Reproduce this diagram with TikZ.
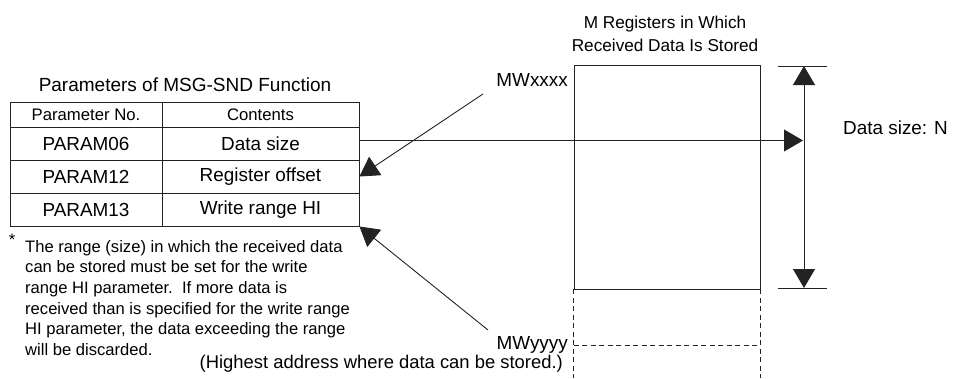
\documentclass[tikz,border=0pt]{standalone}
\usepackage{fontspec}
\setmainfont{Liberation Sans}
\usetikzlibrary{arrows.meta,calc}
\definecolor{LineGrey}{RGB}{35,35,35}

\tikzset{
  cell/.style={draw=LineGrey,line width=0.9pt,minimum height=33pt,inner sep=0pt,font=\fontsize{18.9}{22}\selectfont},
  hdrcell/.style={cell,minimum height=25pt,font=\fontsize{16.7}{20}\selectfont},
  lbl/.style={inner sep=0pt,font=\fontsize{18.9}{22}\selectfont},
  thinline/.style={draw=LineGrey,line width=0.9pt},
  dashline/.style={thinline,dash pattern=on 5pt off 3.5pt},
  bigtip/.style={-{Triangle[length=19pt,width=22pt]}},
}

\begin{document}
\begin{tikzpicture}[x=1pt,y=-1pt]
    \useasboundingbox (0,0) rectangle (954,378);
    % Parameter table
    \node[lbl,font=\fontsize{19}{22}\selectfont] (paramTitle) at (185,85) {Parameters of MSG-SND Function};
    \node[hdrcell,minimum width=152pt] (hNo) at (86,114.5) {Parameter No.};
    \node[hdrcell,minimum width=197pt] (hCont) at (260.5,114.5) {Contents};
    \node[cell,minimum width=152pt] (p06) at (86,143.5) {PARAM06};
    \node[cell,minimum width=197pt] (c06) at (260.5,143.5) {Data size};
    \node[cell,minimum width=152pt] (p12) at (86,176.5) {PARAM12};
    \node[cell,minimum width=197pt] (c12) at (260.5,176.5) {Register offset};
    \node[cell,minimum width=152pt] (p13) at (86,209.5) {PARAM13};
    \node[cell,minimum width=197pt] (c13) at (260.5,209.5) {Write range HI};
    % Footnote
    \node[inner sep=0pt,font=\fontsize{16.6}{20.6}\selectfont] (fnStar) at (12,240) {*};
    \node[inner sep=0pt,anchor=north west,align=left,font=\fontsize{16.6}{20.6}\selectfont] (fnText) at (25,240)
        {The range (size) in which the received data\\can be stored must be set for the write\\range HI parameter.\ \ If more data is\\received than is specified for the write range\\HI parameter, the data exceeding the range\\will be discarded.};
    % M registers
    \node[lbl,align=center,font=\fontsize{17.2}{23}\selectfont] (mregTitle) at (665,34) {M Registers in Which\\Received Data Is Stored};
    \node[thinline,minimum width=186pt,minimum height=224pt,inner sep=0pt] (mreg) at (667,177) {};
    \draw[dashline] (mreg.south west) -- ++(0,89);
    \draw[dashline] (mreg.south east) -- ++(0,89);
    \draw[dashline] ($(mreg.south west)+(0,56)$) -- ($(mreg.south east)+(0,56)$);
    \node[lbl,anchor=east] (mwx) at (568,80) {MWxxxx};
    \node[lbl,anchor=east] (mwy) at (568,345) {MWyyyy};
    \node[lbl,anchor=east,font=\fontsize{18.4}{22}\selectfont] (hiNote) at (563,364) {(Highest address where data can be stored.)};
    \coordinate (mwxFoot) at (483,94);
    \coordinate (mwyFoot) at (488,330);
    % Data size dimension
    \coordinate (dimTop) at (804,66);
    \coordinate (dimBot) at (804,288);
    \draw[thinline] ($(dimTop)+(-26,0)$) -- ($(dimTop)+(23,0)$);
    \draw[thinline] ($(dimBot)+(-26,0)$) -- ($(dimBot)+(23,0)$);
    \draw[thinline,{Triangle[length=19pt,width=22pt]}-{Triangle[length=19pt,width=22pt]}] (dimTop) -- (dimBot);
    \node[lbl,anchor=west] (sizeLbl) at (843,128) {Data size: N};
    % Connectors
    \draw[thinline,bigtip,shorten >=1pt] ([yshift=3pt]c06.east) -- ([yshift=3pt]c06.east -| dimTop);
    \draw[thinline,bigtip] (mwxFoot) -- (c12.east);
    \draw[thinline,bigtip] (mwyFoot) -- (c13.south east);
\end{tikzpicture}
\end{document}
